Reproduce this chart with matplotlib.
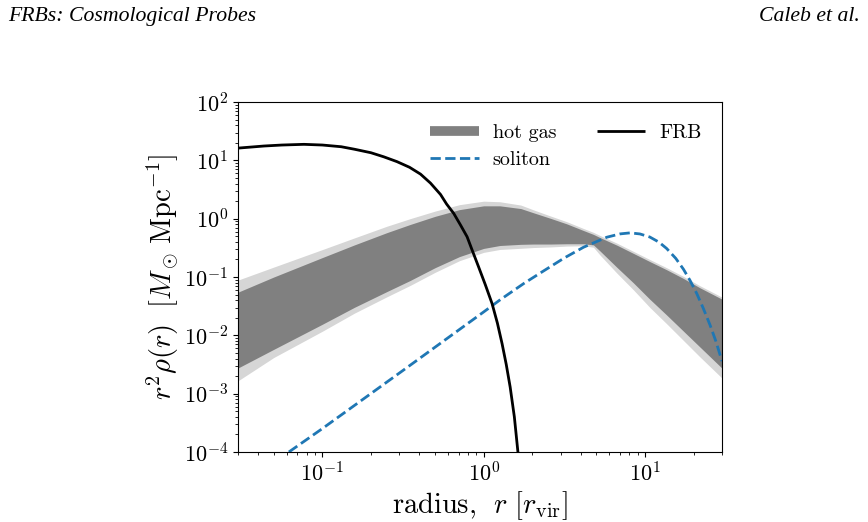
import matplotlib
matplotlib.use("Agg")
import matplotlib.pyplot as plt
import numpy as np
from matplotlib.lines import Line2D

plt.rcParams['font.family'] = 'serif'
plt.rcParams['font.serif'] = ['cmr10', 'DejaVu Serif']
plt.rcParams['mathtext.fontset'] = 'cm'
plt.rcParams['axes.formatter.use_mathtext'] = True

# ---- data ----
frb_r = [0.03, 0.0435, 0.0562, 0.0769, 0.1, 0.131, 0.158, 0.2, 0.24, 0.29, 0.347,
         0.406, 0.468, 0.54, 0.589, 0.652, 0.716, 0.789, 0.851, 0.929, 1.023,
         1.127, 1.216, 1.30, 1.38, 1.459, 1.549, 1.63]
frb_y = [16.2, 17.6, 18.3, 18.8, 18.3, 17.1, 15.5, 13.5, 11.5, 9.5, 7.6,
         5.8, 4.07, 2.6, 1.78, 1.23, 0.79, 0.49, 0.282, 0.15, 0.074,
         0.035, 0.0162, 0.0072, 0.00316, 0.0013, 0.0004, 1e-4]

sol_r = [0.062, 0.1, 0.316, 1.0, 1.27, 1.78, 2.35, 3.16, 4.16, 5.8, 7.0, 8.09,
         9.3, 10.7, 12.2, 13.6, 15.5, 17.3, 19.0, 20.9, 22.9, 25.3, 27.5, 30.0]
sol_y = [1e-4, 2.52e-4, 2.5e-3, 0.0252, 0.041, 0.078, 0.127, 0.212, 0.324, 0.481,
         0.548, 0.571, 0.547, 0.485, 0.396, 0.309, 0.209, 0.136, 0.0876, 0.0524,
         0.0296, 0.015, 0.0079, 0.0036]

# hot-gas band, edges given in decades (log10 of r^2 rho)
gas_r = [0.03, 0.05, 0.1, 0.158, 0.251, 0.35, 0.5, 0.708, 1.0, 1.26, 1.7, 2.04,
         2.6, 3.28, 4.17, 4.79, 5.27, 6.7, 8.47, 10.7, 13.6, 17.3, 21.9, 30.0]
gas_hi_outer_log = [-1.053, -0.83, -0.53, -0.33, -0.13, 0.0, 0.13, 0.24, 0.30, 0.29,
                    0.233, 0.15, 0.045, -0.053, -0.17, -0.235, -0.29, -0.42, -0.56,
                    -0.70, -0.84, -0.99, -1.15, -1.345]
gas_hi_core_log = [-1.26, -1.0, -0.667, -0.45, -0.24, -0.10, 0.04, 0.155, 0.22, 0.22,
                   0.173, 0.10, 0.005, -0.09, -0.205, -0.27, -0.325, -0.455, -0.595,
                   -0.735, -0.875, -1.025, -1.185, -1.38]
gas_lo_core_log = [-2.56, -2.24, -1.81, -1.52, -1.25, -1.06, -0.84, -0.65, -0.51, -0.46,
                   -0.44, -0.435, -0.435, -0.43, -0.43, -0.45, -0.556, -0.835, -1.10,
                   -1.38, -1.65, -1.928, -2.2, -2.563]
gas_lo_outer_log = [-2.78, -2.38, -1.93, -1.62, -1.34, -1.145, -0.92, -0.72, -0.578, -0.528,
                    -0.508, -0.495, -0.485, -0.47, -0.465, -0.49, -0.626, -0.935, -1.22,
                    -1.52, -1.80, -2.088, -2.37, -2.733]

fig = plt.figure(figsize=(8.68, 5.22), dpi=100)
ax = fig.add_axes([238/868, 1-452/522, (722-238)/868, (452-102)/522])

gray = '#808080'
ax.fill_between(gas_r, np.power(10.0, gas_lo_outer_log), np.power(10.0, gas_hi_outer_log),
                color=gray, alpha=0.32, lw=0)
ax.fill_between(gas_r, np.power(10.0, gas_lo_core_log), np.power(10.0, gas_hi_core_log),
                color=gray, alpha=1.0, lw=0)

ax.plot(sol_r, sol_y, color='#1f77b4', ls='--', lw=2)
ax.plot(frb_r, frb_y, color='black', lw=2)

ax.set_xscale('log')
ax.set_yscale('log')
ax.set_xlim(0.03, 30)
ax.set_ylim(1e-4, 1e2)
ax.tick_params(labelsize=16)
ax.set_xlabel(r'radius, $\ r\ [r_\mathrm{vir}]$', fontsize=20.5, labelpad=2)
ax.set_ylabel(r'$r^2\rho(r)\ \ [M_\odot\,\mathrm{Mpc}^{-1}]$', fontsize=20.5, labelpad=2)

handles = [Line2D([], [], color=gray, lw=7, solid_capstyle='butt'),
           Line2D([], [], color='#1f77b4', ls='--', lw=2),
           Line2D([], [], color='black', lw=2, solid_capstyle='butt')]
ax.legend(handles, ['hot gas', 'soliton', 'FRB'], ncol=2, frameon=False,
          fontsize=14.5, loc='upper right', bbox_to_anchor=(0.995, 0.99),
          handlelength=2.4, columnspacing=2.0, handletextpad=0.7, labelspacing=0.45)

fig.text(8/868, 1-21/522, 'FRBs: Cosmological Probes', fontsize=15.7,
         family='Liberation Serif', style='italic', ha='left', va='baseline')
fig.text(860/868, 1-21/522, 'Caleb et al.', fontsize=15.7,
         family='Liberation Serif', style='italic', ha='right', va='baseline')

fig.savefig('out.png', dpi=100)
